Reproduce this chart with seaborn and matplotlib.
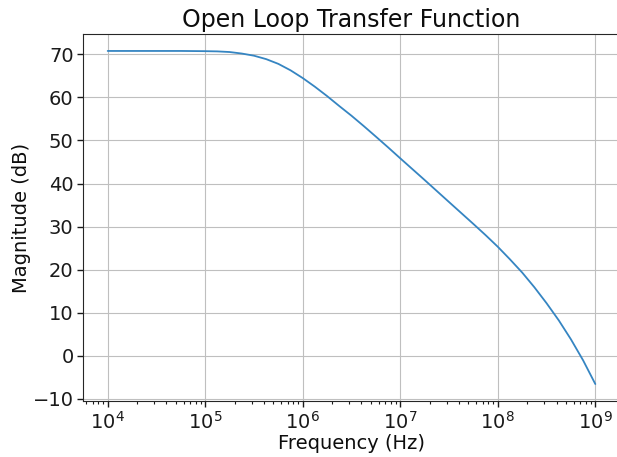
import matplotlib
matplotlib.use("Agg")
import matplotlib.pyplot as plt
import seaborn as sns
import pandas as pd

# Values
freq_hz = [1.0e4, 1.78e4, 3.16e4, 5.62e4, 1.0e5, 1.33e5, 1.78e5, 2.37e5, 3.16e5,
           4.22e5, 5.62e5, 7.5e5, 1.0e6, 1.33e6, 1.78e6, 2.37e6, 3.16e6, 4.22e6,
           5.62e6, 7.5e6, 1.0e7, 1.78e7, 3.16e7, 5.62e7, 7.5e7, 1.0e8, 1.33e8,
           1.78e8, 2.37e8, 3.16e8, 4.22e8, 5.62e8, 7.5e8, 1.0e9]
magnitude_db = [70.8, 70.8, 70.8, 70.8, 70.75, 70.7, 70.55, 70.2, 69.7,
                68.9, 67.8, 66.3, 64.5, 62.5, 60.3, 58.0, 55.75, 53.35,
                50.9, 48.4, 45.85, 40.8, 35.7, 30.6, 28.0, 25.3, 22.4,
                19.3, 15.9, 12.2, 8.2, 3.8, -1.1, -6.6]

title_text = "Open Loop Transfer Function"
xlabel_text = "Frequency (Hz)"
ylabel_text = "Magnitude (dB)"

df = pd.DataFrame({"freq": freq_hz, "mag": magnitude_db})

sns.set_style("whitegrid", rc={
    "axes.edgecolor": "0.15",
    "axes.linewidth": 1.0,
    "grid.color": "0.75",
    "grid.linewidth": 0.9,
    "xtick.bottom": True,
    "ytick.left": True,
    "xtick.direction": "out",
    "ytick.direction": "out",
    "xtick.color": "0.1",
    "ytick.color": "0.1",
    "text.color": "0.05",
    "axes.labelcolor": "0.05",
})
plt.rcParams["font.family"] = ["DejaVu Sans"]

fig = plt.figure(figsize=(6.17, 4.57), dpi=100)
ax = fig.add_axes([83.3 / 617, 1 - 400.7 / 457, 536.4 / 617, (400.7 - 34.3) / 457])

sns.lineplot(data=df, x="freq", y="mag", ax=ax, color="#3585c2", linewidth=1.3)
ax.set_xscale("log")
ax.margins(x=0.05, y=0.05)
ax.set_yticks([-10, 0, 10, 20, 30, 40, 50, 60, 70])

ax.tick_params(axis="both", which="major", labelsize=14, length=4, width=1, pad=3)
ax.tick_params(axis="x", which="minor", length=2, width=0.8, bottom=True)
ax.grid(True, which="major")
ax.grid(False, which="minor")

ax.set_title(title_text, fontsize=17, pad=5)
ax.set_xlabel(xlabel_text, fontsize=14, labelpad=1)
ax.set_ylabel(ylabel_text, fontsize=14, labelpad=1)

fig.savefig("out.png", dpi=100)
